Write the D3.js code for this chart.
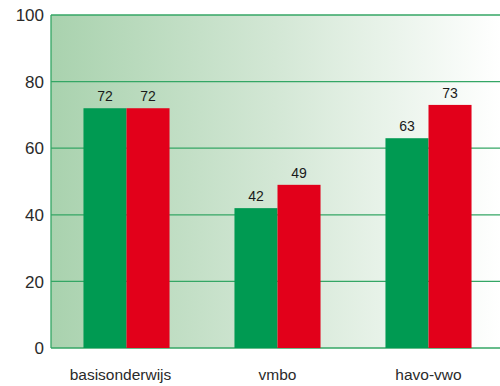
<!DOCTYPE html>
<html><head><meta charset="utf-8">
<script src="https://cdn.jsdelivr.net/npm/d3@7"></script>
<style>body{margin:0;background:#fff}svg{display:block}</style>
</head><body>
<script>
const categories = ["basisonderwijs", "vmbo", "havo-vwo"];
const seriesGreen = [72, 42, 63];
const seriesRed = [72, 49, 73];
const yTicks = [0, 20, 40, 60, 80, 100];

const W = 500, H = 386;
const mLeft = 51, mRight = 504, mTop = 15, mBottom = 348;
const svg = d3.select("body").append("svg").attr("width", W).attr("height", H);

const defs = svg.append("defs");
const grad = defs.append("linearGradient").attr("id", "bg").attr("x1", "0").attr("x2", "1").attr("y1", "0").attr("y2", "0");
grad.append("stop").attr("offset", "0").attr("stop-color", "#a9d2ae");
grad.append("stop").attr("offset", "0.5").attr("stop-color", "#d3e7d5");
grad.append("stop").attr("offset", "1").attr("stop-color", "#ffffff");

const x = d3.scaleBand().domain(categories).range([mLeft, mRight]).padding(0);
const y = d3.scaleLinear().domain([0, 100]).range([mBottom, mTop]);

svg.append("rect").attr("x", mLeft).attr("y", mTop).attr("width", W - mLeft).attr("height", mBottom - mTop).attr("fill", "url(#bg)");

// grid
svg.selectAll("line.grid").data(yTicks).join("line")
  .attr("x1", mLeft).attr("x2", W).attr("y1", d => y(d)).attr("y2", d => y(d))
  .attr("stroke", "#34a665").attr("stroke-width", 1.3);
svg.append("line").attr("x1", mLeft).attr("x2", mLeft).attr("y1", mTop).attr("y2", mBottom)
  .attr("stroke", "#34a665").attr("stroke-width", 1.3);

// tick labels
svg.selectAll("text.ytick").data(yTicks).join("text")
  .attr("x", 44).attr("y", d => y(d)).attr("dy", "0.36em")
  .attr("text-anchor", "end").attr("font-family", "Liberation Sans, Arial, sans-serif")
  .attr("font-size", 17).attr("fill", "#2a2a2a").text(d => d);

const bw = x.bandwidth() * 0.285;
const groups = categories.map((c, i) => ({c, g: seriesGreen[i], r: seriesRed[i]}));

svg.selectAll("rect.g").data(groups).join("rect")
  .attr("x", d => x(d.c) + x.bandwidth() / 2 - bw).attr("width", bw)
  .attr("y", d => y(d.g)).attr("height", d => y(0) - y(d.g)).attr("fill", "#009a52");
svg.selectAll("rect.r").data(groups).join("rect")
  .attr("x", d => x(d.c) + x.bandwidth() / 2).attr("width", bw)
  .attr("y", d => y(d.r)).attr("height", d => y(0) - y(d.r)).attr("fill", "#e2001a");

const lab = (sel) => sel.attr("text-anchor", "middle").attr("font-family", "Liberation Sans, Arial, sans-serif")
  .attr("font-size", 14).attr("fill", "#1a1a1a");
svg.selectAll("text.vg").data(groups).join("text")
  .attr("x", d => x(d.c) + x.bandwidth() / 2 - bw / 2).attr("y", d => y(d.g) - 7).call(lab).text(d => d.g);
svg.selectAll("text.vr").data(groups).join("text")
  .attr("x", d => x(d.c) + x.bandwidth() / 2 + bw / 2).attr("y", d => y(d.r) - 7).call(lab).text(d => d.r);

svg.selectAll("text.cat").data(categories).join("text")
  .attr("x", (d, i) => x(d) + x.bandwidth() / 2 - (i === 0 ? 6 : 0)).attr("y", 380)
  .attr("text-anchor", "middle").attr("font-family", "Liberation Sans, Arial, sans-serif")
  .attr("font-size", 15.5).attr("fill", "#2a2a2a").text(d => d);
</script>
</body></html>
